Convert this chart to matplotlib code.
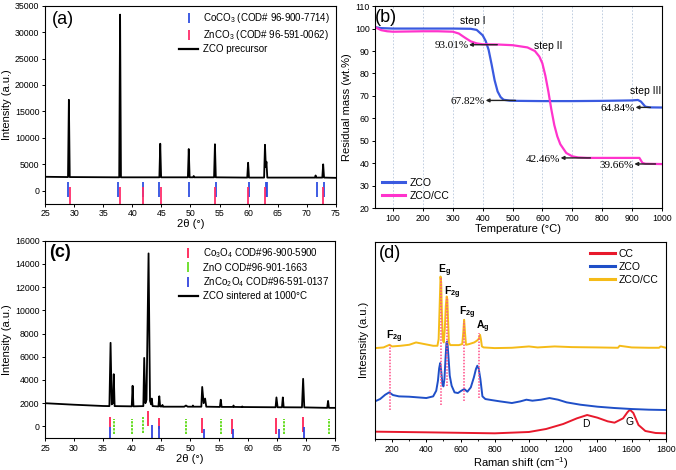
import matplotlib
matplotlib.use("Agg")
import matplotlib.pyplot as plt
import numpy as np
from matplotlib.ticker import MultipleLocator

plt.rcParams['font.family'] = ['Liberation Sans', 'DejaVu Sans']
plt.rcParams['mathtext.fontset'] = 'custom'
plt.rcParams['mathtext.rm'] = 'Liberation Sans'
plt.rcParams['mathtext.it'] = 'Liberation Sans:italic'
plt.rcParams['mathtext.bf'] = 'Liberation Sans:bold'

# ---------------- (a) XRD of precursor ----------------
a_x = [25, 28.95, 29.1, 29.25, 37.75, 37.9, 38.05, 44.65, 44.8, 44.95, 49.55, 49.7, 49.85,
       50.45, 50.55, 50.65, 54.05, 54.2, 54.35, 59.75, 59.9, 60.05, 62.65, 62.8, 62.95, 63.05,
       63.2, 71.4, 71.5, 71.6, 72.65, 72.8, 72.95, 75]
a_y = [2650, 2600, 17200, 2600, 2550, 33300, 2550, 2550, 8900, 2550, 2550, 7900, 2550,
       2550, 2800, 2550, 2550, 8800, 2550, 2500, 5300, 2500, 2500, 8700, 4500, 5500,
       2500, 2500, 2900, 2500, 2500, 5000, 2500, 2450]
a_coco3 = [28.95, 37.6, 41.8, 44.6, 49.8, 54.3, 60.05, 62.95, 63.15, 71.7, 73.0]
a_znco3 = [29.3, 37.9, 41.9, 44.9, 54.2, 59.95, 62.8, 72.7]

# ---------------- (b) TGA ----------------
b_t_zco = [40, 60, 100, 200, 300, 360, 380, 400, 410, 420, 430, 440, 450, 460, 470, 490, 520,
           600, 700, 800, 900, 920, 930, 945, 960, 1000]
b_m_zco = [100.6, 100.2, 100.0, 100.0, 100.0, 99.9, 99.4, 97.0, 94.5, 90.5, 84.0, 77.0, 72.0,
           69.5, 68.3, 67.9, 67.8, 67.7, 67.7, 67.8, 68.0, 68.2, 67.5, 65.2, 64.9, 64.84]
b_t_cc = [40, 60, 80, 100, 150, 200, 250, 300, 320, 340, 360, 380, 400, 450, 500, 550, 575,
          590, 600, 610, 620, 630, 640, 650, 660, 680, 700, 720, 750, 800, 900, 925, 935, 945, 1000]
b_m_cc = [100.6, 99.3, 98.8, 98.6, 98.7, 98.8, 98.8, 98.6, 97.8, 96.0, 94.3, 93.4, 93.0, 92.9,
          92.6, 91.6, 90.0, 87.5, 84.5, 79.0, 72.0, 64.0, 57.0, 52.0, 48.5, 44.6, 43.1, 42.6,
          42.4, 42.4, 42.4, 42.4, 40.2, 39.8, 39.66]

# ---------------- (c) XRD sintered ----------------
c_x = [25, 30, 35, 36.1, 36.3, 36.5, 36.7, 36.85, 37.0, 39.95, 40.1, 40.25, 41.95, 42.1,
       42.3, 42.5, 42.85, 43.1, 43.3, 43.4, 43.55, 44.55, 44.7, 44.85, 45.15, 45.25, 45.35,
       49.0, 49.3, 49.6, 50.4, 50.5, 50.6, 51.95, 52.1, 52.35, 52.6, 52.8, 55.15, 55.3, 55.45,
       57.4, 57.5, 57.6, 58.9, 59.0, 59.1, 64.75, 64.9, 65.1, 65.85, 66.0, 66.15, 69.3, 69.5,
       69.7, 73.65, 73.8, 73.95, 75]
c_y = [2000, 1870, 1760, 1750, 7200, 1900, 2000, 4500, 1750, 1730, 3500, 1730, 1750, 5900,
       2000, 2300, 14900, 2200, 1900, 2400, 1750, 1720, 2600, 1720, 1720, 1850, 1700,
       1700, 1800, 1700, 1700, 1800, 1700, 1700, 3400, 2000, 2400, 1700, 1680, 2300, 1680,
       1680, 1800, 1680, 1670, 1720, 1670, 1650, 2500, 1650, 1650, 2500, 1650, 1640, 4100,
       1640, 1600, 2200, 1600, 1600]
c_co3o4 = [36.26, 42.7, 44.7, 52.0, 57.3, 64.8, 69.4]
c_co3o4_top = [820, 1320, 700, 740, 650, 700, 850]
c_co3o4_bot = [-60, 0, -240, -590, -650, -650, -450]
c_zno = [36.9, 40.06, 41.84, 49.3, 55.3, 66.2, 73.9]
c_zno_top = [650, 650, 800, 650, 650, 650, 650]
c_zno_bot = [-650, -650, -590, -650, -650, -650, -650]
c_znco2o4 = [36.26, 43.4, 44.7, 52.4, 57.4, 65.3, 69.7]
c_znco2o4_top = [-60, 90, 0, -200, -200, -200, -60]

# ---------------- (d) Raman ----------------
d_cc_x = [100, 400, 800, 1000, 1100, 1200, 1280, 1340, 1400, 1460, 1500, 1550, 1575, 1590,
          1610, 1640, 1680, 1740, 1800]
d_cc_y = [22, 20, 17, 21, 30, 45, 62, 72, 64, 53, 49, 62, 80, 88, 78, 42, 24, 18, 17]
d_zco_x = [100, 130, 160, 183, 205, 240, 300, 350, 400, 440, 458, 468, 475, 481, 487, 494, 500,
           506, 512, 518, 523, 529, 537, 548, 565, 585, 605, 622, 640, 660, 678, 690, 698, 706,
           716, 728, 745, 780, 830, 900, 950, 985, 1020, 1070, 1120, 1170, 1220, 1300, 1400,
           1500, 1600, 1700, 1800]
d_zco_y = [113, 120, 133, 140, 132, 128, 127, 125, 123, 128, 145, 175, 212, 228, 205, 165, 158,
           180, 240, 290, 293, 250, 190, 160, 140, 138, 145, 150, 142, 155, 185, 210, 220, 212,
           180, 128, 120, 117, 113, 108, 113, 118, 115, 118, 123, 118, 110, 103, 97,
           93, 90, 88, 87]
d_zcocc_x = [100, 150, 185, 200, 250, 300, 340, 370, 400, 440, 465, 472, 478, 483, 487, 491, 496,
             502, 508, 514, 519, 523, 527, 532, 540, 560, 590, 610, 616, 621, 626, 632, 650, 680,
             695, 705, 710, 714, 719, 725, 735, 800, 900, 1000, 1050, 1150, 1250, 1400, 1520,
             1530, 1600, 1700, 1760, 1770, 1800]
d_zcocc_y = [273, 275, 283, 278, 280, 283, 290, 287, 284, 280, 280, 300, 400, 488, 470, 380, 300,
             290, 330, 400, 428, 420, 360, 290, 282, 282, 282, 285, 320, 358, 320, 283, 285, 290,
             295, 300, 305, 313, 300, 278, 275, 273, 274, 278, 275, 278, 276, 275, 274,
             280, 275, 274, 274, 278, 274]
d_modes_x = [185, 484, 521, 621, 708]
d_modes_top = [283, 488, 428, 353, 318]
d_modes_bot = [88, 103, 158, 113, 123]
d_mode_labels = [r'$\mathbf{F_{2g}}$', r'$\mathbf{E_{g}}$', r'$\mathbf{F_{2g}}$',
                 r'$\mathbf{F_{2g}}$', r'$\mathbf{A_{g}}$']
d_label_x = [165, 466, 505, 593, 690]
d_label_y = [283, 480, 416, 353, 313]

# ---------------- figure ----------------
fig = plt.figure(figsize=(6.76, 4.70), dpi=100)
axa = fig.add_axes([0.0666, 0.567, 0.4304, 0.421])
axb = fig.add_axes([0.555, 0.557, 0.424, 0.430])
axc = fig.add_axes([0.0666, 0.068, 0.429, 0.420])
axd = fig.add_axes([0.5547, 0.066, 0.4303, 0.420])

TF = 6.3
LF = 8
BLUE_A = '#2f4fe0'
RED_A = '#ff2d6a'

def style(ax):
    ax.tick_params(labelsize=TF, length=2.5, width=0.7, direction='out', pad=1.5)
    for s in ax.spines.values():
        s.set_linewidth(0.8)

# (a)
axa.plot(a_x, a_y, color='black', lw=1.3, label='ZCO precursor')
axa.vlines(a_coco3, -1200, 1700, color=BLUE_A, lw=1.3)
axa.vlines(a_znco3, -2400, 800, color=RED_A, lw=1.3)
axa.set_xlim(25, 75)
axa.set_ylim(-2400, 35000)
axa.set_xticks(range(25, 80, 5))
axa.set_yticks(range(0, 35001, 5000))
axa.set_xlabel('2θ (°)', fontsize=LF, labelpad=1)
axa.set_ylabel('Intensity (a.u.)', fontsize=LF, labelpad=2)
style(axa)
h1, = axa.plot([], [], ls='none', marker='|', ms=7, mew=1.3, color=BLUE_A)
h2, = axa.plot([], [], ls='none', marker='|', ms=7, mew=1.3, color=RED_A)
h3, = axa.plot([], [], color='black', lw=1.6)
axa.legend([h1, h2, h3], ['CoCO$_3$ (COD# 96-900-7714)', 'ZnCO$_3$ (COD# 96-591-0062)', 'ZCO precursor'],
           loc='upper right', frameon=False, fontsize=7, handlelength=2.0, handletextpad=0.5,
           labelspacing=0.25, borderaxespad=0.2)
axa.text(0.025, 0.975, '(a)', transform=axa.transAxes, fontsize=13, va='top', ha='left')

# (b)
axb.vlines(range(100, 1000, 100), 20, 110, color='#b8c8dc', lw=0.6, linestyles=(0, (2, 2)))
axb.plot(b_t_zco, b_m_zco, color='#3a5ae0', lw=1.6, label='ZCO')
axb.plot(b_t_cc, b_m_cc, color='#ff33cc', lw=1.6, label='ZCO/CC')
axb.set_xlim(40, 1000)
axb.set_ylim(20, 110)
axb.set_xticks(range(100, 1001, 100))
axb.set_yticks(range(20, 111, 10))
axb.set_xlabel('Temperature (°C)', fontsize=LF, labelpad=1)
axb.set_ylabel('Residual mass (wt.%)', fontsize=LF, labelpad=2)
style(axb)
axb.legend(loc='lower left', frameon=False, fontsize=7.5, handlelength=2.2, handletextpad=0.4,
           labelspacing=0.3, borderaxespad=0.3)
for line in axb.get_legend().get_lines():
    line.set_linewidth(2.2)
axb.text(0.0, 0.985, '(b)', transform=axb.transAxes, fontsize=13, va='top', ha='left')
serif = ['Liberation Serif', 'DejaVu Serif']
axb.text(366, 103.5, 'step I', fontsize=7.5, ha='center', va='center')
axb.text(619, 92.4, 'step II', fontsize=7.5, ha='center', va='center')
axb.text(945, 72.2, 'step III', fontsize=7.5, ha='center', va='center')
ann = [(354, 449, 92.8, '93.01%'), (410, 510, 68.0, '67.82%'), (912, 962, 64.9, '64.84%'),
       (661, 761, 42.4, '42.46%'), (908, 979, 39.7, '39.66%')]
for head, tail, yv, txt in ann:
    axb.annotate('', xy=(head, yv), xytext=(tail, yv),
                 arrowprops=dict(arrowstyle='-|>', color='#222222', lw=1.0, mutation_scale=5,
                                 shrinkA=0, shrinkB=0))
    axb.text(head - 2, yv - 0.5, txt, fontsize=8, ha='right', va='center', family=serif)

# (c)
GREEN = '#66dd22'
BLUE_C = '#3344dd'
RED_C = '#ff2255'
axc.plot(c_x, c_y, color='black', lw=1.3)
axc.vlines(c_co3o4, c_co3o4_bot, c_co3o4_top, color=RED_C, lw=1.3)
axc.vlines(c_zno, c_zno_bot, c_zno_top, color=GREEN, lw=1.4, linestyles=(0, (1.2, 0.6)))
axc.vlines(c_znco2o4, -1000, c_znco2o4_top, color=BLUE_C, lw=1.3)
axc.set_xlim(25, 75)
axc.set_ylim(-1000, 16000)
axc.set_xticks(range(25, 80, 5))
axc.set_yticks(range(0, 16001, 2000))
axc.set_xlabel('2θ (°)', fontsize=LF, labelpad=1)
axc.set_ylabel('Intensity (a.u.)', fontsize=LF, labelpad=2)
style(axc)
g1, = axc.plot([], [], ls='none', marker='|', ms=7, mew=1.3, color=RED_C)
g2, = axc.plot([], [], ls='none', marker='|', ms=7, mew=1.3, color=GREEN)
g3, = axc.plot([], [], ls='none', marker='|', ms=7, mew=1.3, color=BLUE_C)
g4, = axc.plot([], [], color='black', lw=1.6)
axc.legend([g1, g2, g3, g4], ['Co$_3$O$_4$ COD#96-900-5900', 'ZnO COD#96-901-1663',
                              'ZnCo$_2$O$_4$ COD#96-591-0137', 'ZCO sintered at 1000°C'],
           loc='upper right', frameon=False, fontsize=7, handlelength=2.0, handletextpad=0.5,
           labelspacing=0.25, borderaxespad=0.2)
axc.text(0.015, 0.985, '(c)', transform=axc.transAxes, fontsize=13, va='top', ha='left',
         fontweight='bold')

# (d)
axd.plot(d_cc_x, d_cc_y, color='#e8192c', lw=1.4, label='CC')
axd.plot(d_zco_x, d_zco_y, color='#1f4fc8', lw=1.4, label='ZCO')
axd.plot(d_zcocc_x, d_zcocc_y, color='#f5bb18', lw=1.4, label='ZCO/CC')
axd.vlines(d_modes_x, d_modes_bot, d_modes_top, color='#ff4d88', lw=1.1, linestyles=(0, (1, 1)))
for lx, ly, lab in zip(d_label_x, d_label_y, d_mode_labels):
    axd.text(lx, ly, lab, fontsize=7.5, ha='left', va='bottom')
axd.text(1333, 46, 'D', fontsize=7.5, ha='center', va='center')
axd.text(1586, 50, 'G', fontsize=7.5, ha='center', va='center')
axd.set_xlim(100, 1800)
axd.set_ylim(0, 593)
axd.set_xticks(range(200, 1801, 200))
axd.xaxis.set_minor_locator(MultipleLocator(100))
axd.set_yticks([])
axd.set_xlabel('Raman shift (cm$^{-1}$)', fontsize=LF, labelpad=1)
axd.set_ylabel('Intesnsity (a.u.)', fontsize=LF, labelpad=4)
style(axd)
axd.tick_params(which='minor', length=1.5, width=0.6)
axd.legend(loc='upper right', frameon=False, fontsize=7.5, handlelength=2.4, handletextpad=0.4,
           labelspacing=0.3, borderaxespad=0.3)
for line in axd.get_legend().get_lines():
    line.set_linewidth(2.2)
axd.text(0.015, 0.985, '(d)', transform=axd.transAxes, fontsize=13, va='top', ha='left')

fig.savefig('out.png', dpi=100)
